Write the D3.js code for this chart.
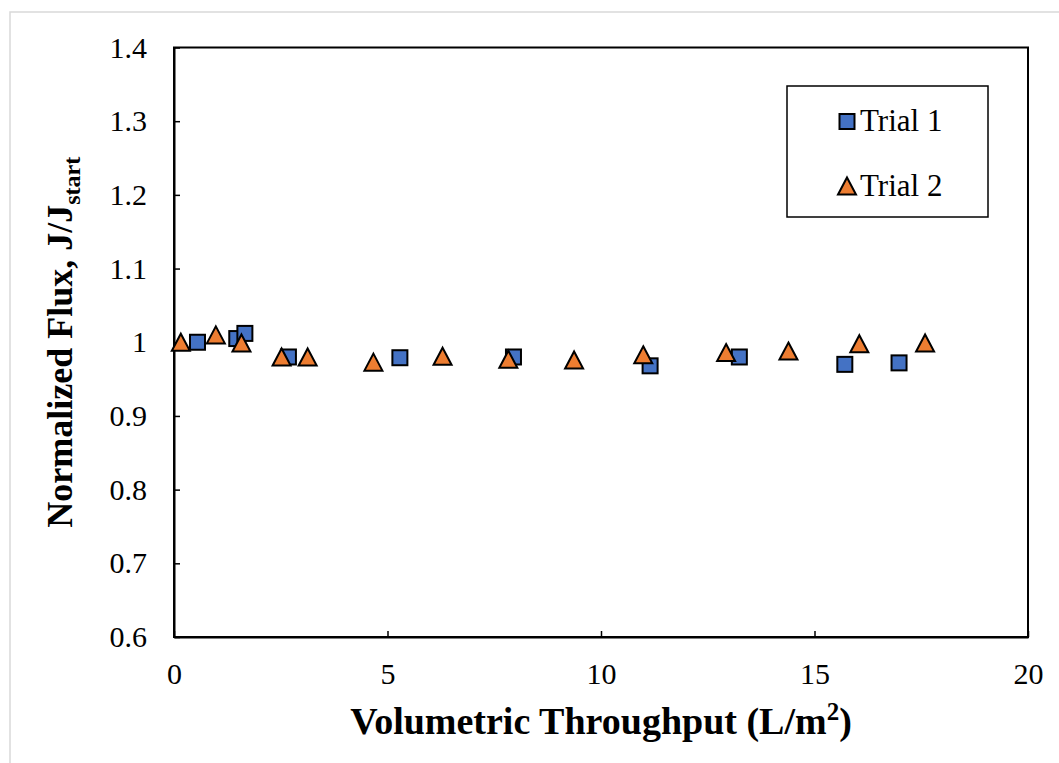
<!DOCTYPE html>
<html>
<head>
<meta charset="utf-8">
<script src="https://cdn.jsdelivr.net/npm/d3@7"></script>
</head>
<body style="margin:0">
<svg id="chart" width="1059" height="763" style="display:block"></svg>
<script>
// ---- Data ----
const trial1X = [0.55, 1.47, 1.66, 2.68, 5.29, 7.95, 11.15, 13.24, 15.71, 16.98];
const trial1Y = [1.000, 1.005, 1.012, 0.980, 0.979, 0.980, 0.968, 0.980, 0.970, 0.972];
const trial2X = [0.16, 0.98, 1.58, 2.52, 3.13, 4.67, 6.29, 7.83, 9.37, 10.99, 12.93, 14.39, 16.05, 17.59];
const trial2Y = [1.000, 1.010, 0.999, 0.980, 0.980, 0.973, 0.981, 0.977, 0.976, 0.983, 0.986, 0.988, 0.998, 0.999];
const xTicks = [0, 5, 10, 15, 20];
const yTicks = [0.6, 0.7, 0.8, 0.9, 1.0, 1.1, 1.2, 1.3, 1.4];
const seriesNames = ["Trial 1", "Trial 2"];

const FONT = '"Times New Roman", Tinos, "Liberation Serif", FreeSerif, serif';
const svg = d3.select("#chart").style("font-family", FONT);
const plot = { left: 174, right: 1028, top: 47.5, bottom: 637 };

// Outer chart border
svg.append("rect").attr("x", 10).attr("y", 12).attr("width", 1060).attr("height", 780)
  .attr("fill", "#fff").attr("stroke", "#d9d9d9").attr("stroke-width", 1.5);

const x = d3.scaleLinear().domain([0, 20]).range([plot.left, plot.right]);
const y = d3.scaleLinear().domain([0.6, 1.4]).range([plot.bottom, plot.top]);

// Plot border
svg.append("rect").attr("x", plot.left).attr("y", plot.top)
  .attr("width", plot.right - plot.left).attr("height", plot.bottom - plot.top)
  .attr("fill", "none").attr("stroke", "#000").attr("stroke-width", 2);

// Axes
const xAxis = d3.axisBottom(x).tickValues(xTicks).tickSizeInner(-6).tickSizeOuter(0)
  .tickPadding(26).tickFormat(d3.format("d"));
const gx = svg.append("g").attr("transform", `translate(0,${plot.bottom})`).call(xAxis)
  .attr("font-family", null).attr("font-size", null);
gx.select(".domain").attr("stroke", "#000").attr("stroke-width", 2);
gx.selectAll(".tick line").attr("stroke", "#000").attr("stroke-width", 1.5);
gx.selectAll("text").attr("font-family", FONT).style("font-family", FONT).attr("font-size", 30)
  .attr("fill", "#000").attr("dy", "0.71em");

const yAxis = d3.axisLeft(y).tickValues(yTicks).tickSizeInner(-6).tickSizeOuter(0)
  .tickPadding(27).tickFormat(d => d === 1 ? "1" : d3.format(".1f")(d));
const gy = svg.append("g").attr("transform", `translate(${plot.left},0)`).call(yAxis)
  .attr("font-family", null).attr("font-size", null);
gy.select(".domain").attr("stroke", "#000").attr("stroke-width", 2);
gy.selectAll(".tick line").attr("stroke", "#000").attr("stroke-width", 1.5);
gy.selectAll("text").attr("font-family", FONT).style("font-family", FONT).attr("font-size", 30).attr("fill", "#000");

// Axis titles
const xt = svg.append("text").attr("x", (plot.left + plot.right) / 2).attr("y", 734)
  .attr("text-anchor", "middle").style("font-family", FONT).attr("font-weight", "bold")
  .attr("font-size", 38).attr("fill", "#000");
xt.append("tspan").text("Volumetric Throughput (L/m");
xt.append("tspan").attr("font-size", 25).attr("dy", -14).text("2");
xt.append("tspan").attr("dy", 14).text(")");

const yt = svg.append("text")
  .attr("transform", `translate(72,${(plot.top + plot.bottom) / 2}) rotate(-90)`)
  .attr("text-anchor", "middle").style("font-family", FONT).attr("font-weight", "bold")
  .attr("font-size", 36).attr("fill", "#000");
yt.append("tspan").text("Normalized Flux, J/J");
yt.append("tspan").attr("font-size", 24).attr("dy", 8).text("start");

// Markers
const sq = 15;
const t1 = trial1X.map((v, i) => ({ x: v, y: trial1Y[i] }));
const t2 = trial2X.map((v, i) => ({ x: v, y: trial2Y[i] }));

svg.append("g").selectAll("rect").data(t1).join("rect")
  .attr("x", d => x(d.x) - sq / 2).attr("y", d => y(d.y) - sq / 2)
  .attr("width", sq).attr("height", sq)
  .attr("fill", "#4472C4").attr("stroke", "#000").attr("stroke-width", 2);

function triangle(cx, cy) {
  const w = 18, h = 17;
  return `M${cx},${cy - h / 2}L${cx + w / 2},${cy + h / 2}L${cx - w / 2},${cy + h / 2}Z`;
}
svg.append("g").selectAll("path").data(t2).join("path")
  .attr("d", d => triangle(x(d.x), y(d.y)))
  .attr("fill", "#ED7D31").attr("stroke", "#000").attr("stroke-width", 2);

// Legend
const lg = svg.append("g");
lg.append("rect").attr("x", 787).attr("y", 86).attr("width", 201).attr("height", 131)
  .attr("fill", "#fff").attr("stroke", "#000").attr("stroke-width", 1.5);
lg.append("rect").attr("x", 847 - sq / 2).attr("y", 121.5 - sq / 2).attr("width", sq).attr("height", sq)
  .attr("fill", "#4472C4").attr("stroke", "#000").attr("stroke-width", 2);
lg.append("path").attr("d", triangle(847, 186))
  .attr("fill", "#ED7D31").attr("stroke", "#000").attr("stroke-width", 2);
lg.append("text").attr("x", 860).attr("y", 131).style("font-family", FONT).attr("font-size", 31)
  .attr("fill", "#000").text(seriesNames[0]);
lg.append("text").attr("x", 860).attr("y", 196).style("font-family", FONT).attr("font-size", 31)
  .attr("fill", "#000").text(seriesNames[1]);
</script>
</body>
</html>
